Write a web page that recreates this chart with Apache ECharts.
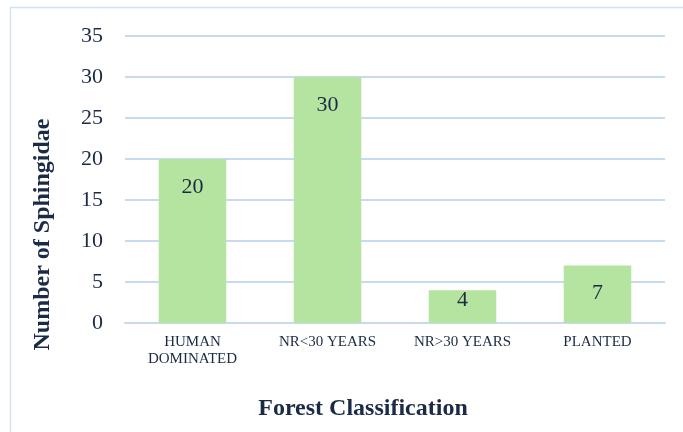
<!DOCTYPE html>
<html>
<head>
<meta charset="utf-8">
<script src="https://cdn.jsdelivr.net/npm/echarts@6/dist/echarts.min.js"></script>
<style>
  html, body { margin: 0; padding: 0; background: #fff; }
  #chart { width: 683px; height: 432px; }
</style>
</head>
<body>
<div id="chart"></div>
<script>
// Sphingidae counts per forest class
const categories = ['HUMAN\nDOMINATED', 'NR<30 YEARS', 'NR>30 YEARS', 'PLANTED'];
const counts = [20, 30, 4, 7];
const yTicks = { min: 0, max: 35, interval: 5 };

const textColor = '#1b2a45';
const gridColor = '#c8daf0';
const serif = '"Liberation Serif", "Times New Roman", serif';

// short bars get their value label lifted so it stays inside the bar
const barData = counts.map(v => v < 5
  ? { value: v, label: { distance: -1 } }
  : { value: v });

const chart = echarts.init(document.getElementById('chart'));
chart.setOption({
  animation: false,
  graphic: [{
    type: 'rect',
    shape: { x: 10.5, y: 7.5, width: 700, height: 460 },
    style: { fill: 'none', stroke: '#d4e2f2', lineWidth: 1.5 },
    silent: true
  }],
  grid: { left: 125, right: 18, top: 36, bottom: 109 },
  xAxis: {
    type: 'category',
    data: categories,
    axisLine: { lineStyle: { color: gridColor, width: 2 } },
    axisTick: { show: false },
    axisLabel: {
      color: textColor, fontFamily: serif, fontSize: 15, lineHeight: 17,
      margin: 11, interval: 0
    },
    name: 'Forest Classification',
    nameLocation: 'middle',
    nameGap: 74,
    nameTextStyle: {
      color: textColor, fontFamily: serif, fontSize: 24, fontWeight: 'bold',
      padding: [0, 64, 0, 0]
    }
  },
  yAxis: {
    type: 'value',
    min: yTicks.min, max: yTicks.max, interval: yTicks.interval,
    axisLine: { show: false },
    axisTick: { show: false },
    splitLine: { lineStyle: { color: gridColor, width: 2 } },
    axisLabel: { color: textColor, fontFamily: serif, fontSize: 22, margin: 22 },
    name: 'Number of Sphingidae',
    nameLocation: 'middle',
    nameGap: 70,
    nameTextStyle: {
      color: textColor, fontFamily: serif, fontSize: 24, fontWeight: 'bold',
      padding: [0, 110, 0, 0]
    }
  },
  series: [{
    type: 'bar',
    data: barData,
    barWidth: '50%',
    itemStyle: { color: '#b5e4a0' },
    label: {
      show: true,
      position: 'insideTop',
      distance: 17,
      color: textColor,
      fontFamily: serif,
      fontSize: 22
    }
  }]
});
</script>
</body>
</html>
